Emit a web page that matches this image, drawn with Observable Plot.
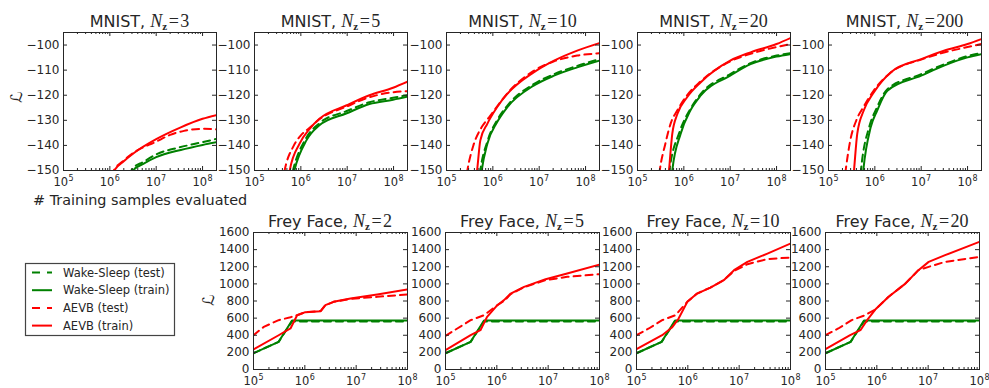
<!DOCTYPE html>
<html><head><meta charset="utf-8">
<script src="https://cdn.jsdelivr.net/npm/d3@7"></script>
<script src="https://cdn.jsdelivr.net/npm/@observablehq/plot@0.6"></script>
<style>
body{margin:0;background:#fff;}
#root{position:relative;width:989px;height:388px;overflow:hidden;font-family:"DejaVu Sans";color:#262626;background:#fff;}
.title{position:absolute;font-size:16px;line-height:16px;white-space:nowrap;transform:translateX(-50%);}
.title .m{font-family:"Liberation Serif";font-size:18px;}
.title .n{font-style:italic;}
.title sub{font-family:"Liberation Serif";font-weight:bold;font-size:11px;vertical-align:-3px;line-height:0;}
.lab{position:absolute;white-space:nowrap;}
</style></head><body><div id="root"></div><script>
// ---- data: [log10(# training samples), lower bound L] ----
const xTicksMajor = [1e5, 1e6, 1e7, 1e8];
const yTicksMnist = [-150, -140, -130, -120, -110, -100];
const yTicksFrey = [0, 200, 400, 600, 800, 1000, 1200, 1400, 1600];

// MNIST Nz=3
const m3_wsTest   = [[6.42,-152],[6.48,-149.5],[6.73,-146.5],[7.0,-143.6],[7.5,-140.8],[8.0,-138.7],[8.3,-137.4]];
const m3_wsTrain  = [[6.45,-152],[6.5,-150],[6.73,-147.3],[7.0,-144.7],[7.53,-141.8],[8.0,-139.8],[8.3,-138.7]];
const m3_aevbTest = [[6.02,-152],[6.1,-149.5],[6.3,-146],[6.52,-142.8],[7.0,-138.5],[7.3,-135.8],[7.6,-134.2],[8.0,-133.4],[8.3,-133.6]];
const m3_aevbTrain= [[6.05,-152],[6.1,-150],[6.3,-146.3],[6.52,-143],[7.0,-137.5],[7.53,-132.8],[8.0,-129.4],[8.3,-127.9]];
// MNIST Nz=5
const m5_wsTest   = [[5.77,-155],[5.83,-150],[6.10,-137.5],[6.40,-131.2],[6.99,-126.3],[7.48,-122.8],[7.99,-121],[8.3,-120]];
const m5_wsTrain  = [[5.8,-155],[5.86,-150],[6.12,-138],[6.40,-132],[6.99,-127.2],[7.48,-123.5],[7.99,-121.8],[8.3,-120.6]];
const m5_aevbTest = [[5.6,-155],[5.65,-150],[5.85,-140],[6.0,-136],[6.19,-133],[6.40,-129.6],[6.99,-124.5],[7.48,-120.8],[7.99,-118.8],[8.3,-118.4]];
const m5_aevbTrain= [[5.72,-155],[5.76,-150],[5.97,-139.4],[6.19,-133.4],[6.40,-129.4],[6.99,-124],[7.48,-120],[7.99,-117],[8.3,-114.6]];
// MNIST Nz=10
const m10_wsTest   = [[5.69,-156],[5.73,-150],[5.88,-138.5],[6.09,-130],[6.31,-124.2],[6.88,-115.6],[7.32,-111.6],[7.82,-108.3],[8.3,-105.6]];
const m10_wsTrain  = [[5.72,-156],[5.76,-150],[5.88,-139.4],[6.09,-130.8],[6.31,-124.8],[6.88,-116.2],[7.32,-112.2],[7.82,-108.9],[8.3,-106.2]];
const m10_aevbTest = [[5.40,-156],[5.45,-150],[5.58,-140],[5.75,-133],[5.93,-128.5],[6.09,-124.5],[6.31,-119.3],[6.88,-110.3],[7.32,-106.5],[7.82,-104.2],[8.3,-103.3]];
const m10_aevbTrain= [[5.62,-156],[5.66,-150],[5.73,-138],[5.88,-131.4],[6.09,-124.8],[6.31,-119.5],[6.88,-110.9],[7.32,-106.2],[7.82,-102.2],[8.3,-99.2]];
// MNIST Nz=20
const m20_wsTest   = [[5.66,-156],[5.69,-150],[5.9,-135],[6.14,-125.5],[6.36,-119.6],[7.0,-111.6],[7.44,-107.2],[8.0,-104.2],[8.3,-103.2]];
const m20_wsTrain  = [[5.72,-156],[5.75,-150],[5.93,-135.4],[6.14,-126.1],[6.36,-120.2],[7.0,-112.2],[7.44,-107.6],[8.0,-104.6],[8.3,-103.6]];
const m20_aevbTest = [[5.44,-156],[5.48,-150],[5.6,-139.4],[5.72,-131],[5.86,-126],[6.07,-120],[6.36,-114.5],[7.0,-106.5],[7.44,-103.5],[8.0,-100.8],[8.3,-99.6]];
const m20_aevbTrain= [[5.65,-156],[5.68,-150],[5.75,-135.4],[5.86,-127.5],[6.07,-120.8],[6.36,-114.9],[7.0,-106.2],[7.44,-102.9],[8.0,-99.6],[8.3,-97.2]];
// MNIST Nz=200
const m200_wsTest   = [[5.67,-156],[5.70,-150],[5.88,-132.5],[6.03,-125.5],[6.27,-117.6],[7.0,-111.6],[7.49,-107.7],[8.0,-104.4],[8.3,-103.1]];
const m200_wsTrain  = [[5.72,-156],[5.75,-150],[5.91,-132.8],[6.05,-126.1],[6.27,-118.2],[7.0,-112.2],[7.49,-108.2],[8.0,-104.9],[8.3,-103.6]];
const m200_aevbTest = [[5.33,-156],[5.37,-150],[5.47,-138],[5.6,-130],[5.76,-124.5],[5.98,-118],[6.34,-111],[7.0,-105.8],[7.49,-103],[8.0,-100.8],[8.3,-99.6]];
const m200_aevbTrain= [[5.52,-156],[5.55,-150],[5.62,-135.4],[5.76,-126.1],[5.98,-118.8],[6.34,-110.9],[7.0,-105.6],[7.49,-102.3],[8.0,-99.6],[8.3,-97.6]];
// Frey Face (Wake-Sleep identical in all four panels)
const ff_wsTest  = [[5,190],[5.49,323],[5.75,562],[8,562]];
const ff_wsTrain = [[5,190],[5.49,323],[5.75,572],[8,572]];
const ff2_aevbTest  = [[5,400],[5.2,498],[5.49,576],[5.72,610],[5.9,645],[6.01,670],[6.31,684],[6.40,751],[6.56,790],[6.89,825],[7.41,849],[8,876]];
const ff2_aevbTrain = [[5,234],[5.49,400],[5.72,479],[5.85,634],[6.01,670],[6.31,681],[6.40,751],[6.56,790],[6.89,829],[7.41,876],[8,934]];
const ff5_aevbTest  = [[5,393],[5.23,479],[5.49,576],[5.75,634],[6.01,751],[6.14,800],[6.27,880],[6.53,960],[6.95,1043],[7.37,1082],[8,1113]];
const ff5_aevbTrain = [[5,226],[5.49,401],[5.68,459],[5.81,615],[6.01,751],[6.14,810],[6.27,887],[6.53,965],[6.95,1055],[7.37,1121],[8,1225]];
const ff10_aevbTest  = [[5,401],[5.24,479],[5.5,576],[5.76,634],[5.99,790],[6.18,887],[6.44,957],[6.70,1043],[6.90,1150],[7.16,1230],[7.55,1290],[8,1308]];
const ff10_aevbTrain = [[5,237],[5.5,401],[5.69,490],[5.82,595],[5.99,790],[6.18,887],[6.44,957],[6.70,1043],[6.90,1160],[7.16,1257],[7.55,1354],[8,1471]];
const ff20_aevbTest  = [[5,401],[5.25,479],[5.51,576],[5.77,634],[5.97,700],[6.23,850],[6.55,1000],[6.81,1160],[7.01,1199],[7.33,1257],[8,1316]];
const ff20_aevbTrain = [[5,237],[5.48,401],[5.68,459],[5.81,576],[5.97,700],[6.23,850],[6.55,1000],[6.81,1160],[7.01,1257],[7.33,1335],[8,1491]];

const seriesNames = ["Wake-Sleep (test)", "Wake-Sleep (train)", "AEVB (test)", "AEVB (train)"];
const seriesColors = ["#008000", "#008000", "#ff0000", "#ff0000"];
const seriesDash = ["7,5", null, "7,5", null];

// ---- layout ----
const INK = "#262626";
const root = document.getElementById("root");
const fmtY = d => d < 0 ? "\u2212" + (-d) : String(d);
function minorTicks(lo, hi) {
  const out = [];
  for (let k = Math.floor(Math.log10(lo)); k <= Math.ceil(Math.log10(hi)); k++)
    for (let m = 2; m <= 9; m++) { const v = m * 10 ** k; if (v > lo && v < hi) out.push(v); }
  return out;
}

const panels = [
  {ds:"MNIST", nz:"3", left:63, top:32, w:153, h:138, xmax:2e8, y:[-150,-95], yt:yTicksMnist, curve:"monotone-x", s:[m3_wsTest,m3_wsTrain,m3_aevbTest,m3_aevbTrain]},
  {ds:"MNIST", nz:"5", left:254, top:32, w:153, h:138, xmax:2e8, y:[-150,-95], yt:yTicksMnist, curve:"monotone-x", s:[m5_wsTest,m5_wsTrain,m5_aevbTest,m5_aevbTrain]},
  {ds:"MNIST", nz:"10", left:446, top:32, w:153, h:138, xmax:2e8, y:[-150,-95], yt:yTicksMnist, curve:"monotone-x", s:[m10_wsTest,m10_wsTrain,m10_aevbTest,m10_aevbTrain]},
  {ds:"MNIST", nz:"20", left:637, top:32, w:153, h:138, xmax:2e8, y:[-150,-95], yt:yTicksMnist, curve:"monotone-x", s:[m20_wsTest,m20_wsTrain,m20_aevbTest,m20_aevbTrain]},
  {ds:"MNIST", nz:"200", left:828, top:32, w:153, h:138, xmax:2e8, y:[-150,-95], yt:yTicksMnist, curve:"monotone-x", s:[m200_wsTest,m200_wsTrain,m200_aevbTest,m200_aevbTrain]},
  {ds:"Frey Face", nz:"2", left:253, top:232, w:154, h:137, xmax:1e8, y:[0,1600], yt:yTicksFrey, curve:"linear", s:[ff_wsTest,ff_wsTrain,ff2_aevbTest,ff2_aevbTrain]},
  {ds:"Frey Face", nz:"5", left:445, top:232, w:154, h:137, xmax:1e8, y:[0,1600], yt:yTicksFrey, curve:"linear", s:[ff_wsTest,ff_wsTrain,ff5_aevbTest,ff5_aevbTrain]},
  {ds:"Frey Face", nz:"10", left:636, top:232, w:154, h:137, xmax:1e8, y:[0,1600], yt:yTicksFrey, curve:"linear", s:[ff_wsTest,ff_wsTrain,ff10_aevbTest,ff10_aevbTrain]},
  {ds:"Frey Face", nz:"20", left:825, top:232, w:154, h:137, xmax:1e8, y:[0,1600], yt:yTicksFrey, curve:"linear", s:[ff_wsTest,ff_wsTrain,ff20_aevbTest,ff20_aevbTrain]},
];

for (const p of panels) {
  const ml = 46, mr = 8, mt = 4, mb = 26;
  const W = p.w, H = p.h;
  const dom = [1e5, p.xmax];
  const minor = minorTicks(dom[0], dom[1]);
  const lines = p.s.map((arr, i) => Plot.line(arr.map(([lx, y]) => ({x: 10 ** lx, y})), {
    x: "x", y: "y", stroke: seriesColors[i], strokeWidth: 2,
    strokeDasharray: seriesDash[i], curve: p.curve, clip: true
  }));
  const svg = Plot.plot({
    width: W + ml + mr, height: H + mt + mb,
    marginLeft: ml, marginRight: mr, marginTop: mt, marginBottom: mb,
    style: {fontFamily: "DejaVu Sans", fontSize: "12px", color: INK, background: "transparent", overflow: "visible"},
    x: {type: "log", domain: dom, label: null, axis: null},
    y: {type: "linear", domain: p.y, label: null, axis: null},
    marks: [
      ...lines,
      Plot.tickX(xTicksMajor, {x: d => d, insetTop: H - 4, stroke: INK}),
      Plot.tickX(xTicksMajor, {x: d => d, insetBottom: H - 4, stroke: INK}),
      Plot.tickX(minor, {x: d => d, insetTop: H - 2, stroke: INK}),
      Plot.tickX(minor, {x: d => d, insetBottom: H - 2, stroke: INK}),
      Plot.tickY(p.yt, {y: d => d, insetRight: W - 4, stroke: INK}),
      Plot.tickY(p.yt, {y: d => d, insetLeft: W - 4, stroke: INK}),
      Plot.frame({stroke: INK, strokeWidth: 1}),
      // x tick labels drawn as "10" with a raised exponent
      Plot.text(xTicksMajor, {x: d => d, frameAnchor: "bottom", text: () => "10", lineAnchor: "top",
        dy: 7, dx: -2.8, textAnchor: "middle", fontSize: 11.5, fill: INK}),
      Plot.text(xTicksMajor, {x: d => d, frameAnchor: "bottom", text: d => String(Math.round(Math.log10(d))),
        lineAnchor: "top", dy: 4.5, dx: 4.9, textAnchor: "start", fontSize: 8, fill: INK}),
      // y tick labels
      Plot.text(p.yt, {y: d => d, frameAnchor: "left", text: fmtY, textAnchor: "end", dx: -4, fontSize: 12, fill: INK})
    ]
  });
  svg.style.position = "absolute";
  svg.style.left = (p.left - ml) + "px";
  svg.style.top = (p.top - mt) + "px";
  root.appendChild(svg);

  const t = document.createElement("div");
  t.className = "title";
  t.style.left = (p.left + W / 2) + "px";
  t.style.top = (p.top - 19) + "px";
  t.innerHTML = `${p.ds}, <span class="m"><span class="n">N</span><sub>z</sub>&#8202;=&#8202;${p.nz}</span>`;
  root.appendChild(t);
}

// axis labels
function label(text, x, y, size, rot) {
  const d = document.createElement("div");
  d.className = "lab";
  d.textContent = text;
  d.style.fontSize = size + "px";
  d.style.left = x + "px"; d.style.top = y + "px";
  d.style.transform = rot ? "translate(-50%,-50%) rotate(-90deg)" : "translate(0,-50%)";
  root.appendChild(d);
}
label("# Training samples evaluated", 33, 200, 14.4, false);
label("ℒ", 16, 97, 16, true);
label("ℒ", 208, 300, 16, true);

// legend
const lg = d3.create("svg").attr("width", 152).attr("height", 76)
  .style("position", "absolute").style("left", "24px").style("top", "262px");
lg.append("rect").attr("x", 1.5).attr("y", 1.5).attr("width", 149).attr("height", 72)
  .attr("fill", "white").attr("stroke", "#444").attr("stroke-width", 1.2);
seriesNames.forEach((name, i) => {
  const y = 10.5 + i * 17.7;
  lg.append("line").attr("x1", 8).attr("x2", 28).attr("y1", y).attr("y2", y)
    .attr("stroke", seriesColors[i]).attr("stroke-width", 2)
    .attr("stroke-dasharray", seriesDash[i] ? "8,7" : null);
  lg.append("text").attr("x", 39).attr("y", y).attr("dy", "0.36em")
    .attr("font-family", "DejaVu Sans").attr("font-size", 11.5).attr("fill", INK).text(name);
});
root.appendChild(lg.node());
</script></body></html>
